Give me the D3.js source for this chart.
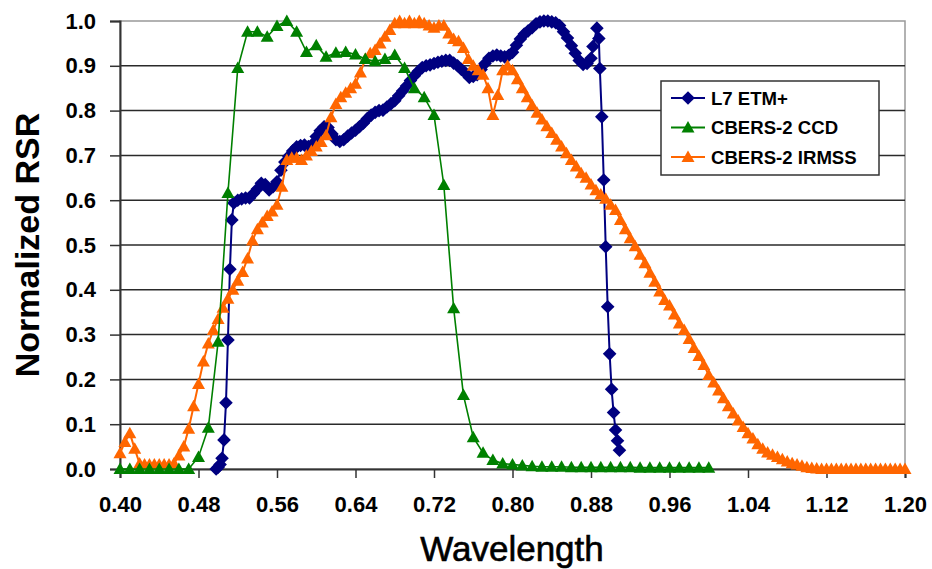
<!DOCTYPE html>
<html>
<head>
<meta charset="utf-8">
<script src="https://cdn.jsdelivr.net/npm/d3@7"></script>
<style>
  body { margin: 0; background: #fff; }
  text { font-family: "Liberation Sans", Arial, sans-serif; }
</style>
</head>
<body>
<div id="chart"></div>
<script>
// tick labels
var xTicks = [0.40, 0.48, 0.56, 0.64, 0.72, 0.80, 0.88, 0.96, 1.04, 1.12, 1.20];
var yTicks = [0.0, 0.1, 0.2, 0.3, 0.4, 0.5, 0.6, 0.7, 0.8, 0.9, 1.0];
var seriesNames = ["L7 ETM+", "CBERS-2 CCD", "CBERS-2 IRMSS"];

// L7 ETM+ : steep edges read point by point, the band in between every 4 nm
var l7EdgeLeftWave = [0.498, 0.500, 0.502, 0.504, 0.506, 0.508, 0.510, 0.512, 0.514, 0.516];
var l7EdgeLeftValue = [0.0, 0.004, 0.010, 0.024, 0.065, 0.148, 0.288, 0.446, 0.556, 0.594];
var l7MidWave = d3.range(0.520, 0.8805, 0.004);
var l7MidValue = [
  0.600, 0.603, 0.605, 0.605, 0.615, 0.625, 0.638, 0.635, 0.623, 0.630,
  0.641, 0.667, 0.685, 0.698, 0.710, 0.719, 0.722, 0.723, 0.720, 0.725,
  0.742, 0.755, 0.764, 0.762, 0.748, 0.735, 0.731, 0.735, 0.743, 0.750,
  0.756, 0.764, 0.772, 0.782, 0.790, 0.796, 0.800, 0.801, 0.808, 0.815,
  0.822, 0.833, 0.844, 0.855, 0.867, 0.878, 0.888, 0.896, 0.900, 0.902,
  0.905, 0.908, 0.910, 0.912, 0.912, 0.906, 0.900, 0.892, 0.884, 0.874,
  0.876, 0.880, 0.892, 0.905, 0.917, 0.922, 0.924, 0.922, 0.920, 0.923,
  0.930, 0.946, 0.960, 0.971, 0.978, 0.985, 0.994, 0.998, 1.000, 1.000,
  0.998, 0.996, 0.990, 0.976, 0.962, 0.945, 0.928, 0.912, 0.903, 0.905,
  0.917
];
var l7EdgeRightWave = [0.882, 0.886, 0.888, 0.889, 0.891, 0.893, 0.895, 0.897, 0.899, 0.901, 0.903, 0.905, 0.907, 0.909];
var l7EdgeRightValue = [0.943, 0.984, 0.961, 0.894, 0.786, 0.645, 0.496, 0.362, 0.257, 0.178, 0.126, 0.087, 0.063, 0.042];

// CBERS-2 CCD : every 10 nm from 0.40 to 1.00
var ccdWave = d3.range(0.40, 1.0005, 0.01);
var ccdValue = [
  0.0, 0.0, 0.0, 0.0, 0.0, 0.0, 0.0, 0.0, 0.027, 0.092,
  0.284, 0.616, 0.895, 0.976, 0.976, 0.965, 0.989, 1.000, 0.976, 0.931,
  0.946, 0.920, 0.929, 0.931, 0.925, 0.915, 0.910, 0.915, 0.924, 0.895,
  0.850, 0.830, 0.790, 0.634, 0.359, 0.165, 0.071, 0.036, 0.020, 0.012,
  0.010, 0.008, 0.006, 0.005, 0.005, 0.005, 0.004, 0.004, 0.004, 0.004,
  0.004, 0.004, 0.004, 0.003, 0.003, 0.003, 0.003, 0.003, 0.003, 0.003,
  0.003
];

// CBERS-2 IRMSS : every 5 nm from 0.40 to 1.20
var irmssWave = d3.range(0.40, 1.2005, 0.005);
var irmssValue = [
  0.035, 0.060, 0.080, 0.045, 0.012, 0.010, 0.010, 0.010, 0.010, 0.010,
  0.010, 0.012, 0.030, 0.050, 0.090, 0.140, 0.190, 0.240, 0.280, 0.310,
  0.335, 0.360, 0.380, 0.400, 0.420, 0.440, 0.470, 0.510, 0.535, 0.550,
  0.565, 0.575, 0.590, 0.630, 0.690, 0.695, 0.695, 0.690, 0.700, 0.710,
  0.720, 0.730, 0.745, 0.785, 0.815, 0.830, 0.840, 0.850, 0.860, 0.885,
  0.915, 0.928, 0.935, 0.950, 0.965, 0.980, 0.995, 1.000, 0.995, 1.000,
  0.995, 1.000, 0.995, 0.990, 0.985, 0.990, 0.990, 0.972, 0.960, 0.955,
  0.940, 0.915, 0.900, 0.890, 0.880, 0.850, 0.790, 0.835, 0.890, 0.900,
  0.890, 0.870, 0.850, 0.830, 0.812, 0.795, 0.780, 0.765, 0.750, 0.735,
  0.720, 0.705, 0.690, 0.675, 0.660, 0.650, 0.635, 0.622, 0.613, 0.603,
  0.590, 0.578, 0.556, 0.535, 0.515, 0.497, 0.478, 0.459, 0.438, 0.418,
  0.396, 0.377, 0.365, 0.345, 0.325, 0.310, 0.290, 0.270, 0.252, 0.232,
  0.210, 0.193, 0.175, 0.158, 0.140, 0.124, 0.108, 0.094, 0.080, 0.068,
  0.055, 0.045, 0.037, 0.032, 0.027, 0.022, 0.017, 0.013, 0.010, 0.007,
  0.004, 0.002, 0.001, 0.0, 0.0, 0.0, 0.0, 0.0, 0.0, 0.0,
  0.0, 0.0, 0.0, 0.0, 0.0, 0.0, 0.0, 0.0, 0.0, 0.0,
  0.0
];

function zipPoints(waves, values) {
  return waves.map(function(w, i) { return {w: w, v: values[i]}; });
}

var l7Data = zipPoints(l7EdgeLeftWave, l7EdgeLeftValue)
  .concat(zipPoints(l7MidWave, l7MidValue))
  .concat(zipPoints(l7EdgeRightWave, l7EdgeRightValue));
var ccdData = zipPoints(ccdWave, ccdValue);
var irmssData = zipPoints(irmssWave, irmssValue);

var colors = {"L7 ETM+": "#000080", "CBERS-2 CCD": "#008000", "CBERS-2 IRMSS": "#ff6600"};
// excel style markers
var diamond = "M0,-6.8L6.8,0L0,6.8L-6.8,0Z";
var triangle = "M0,-6.5L6.5,5L-6.5,5Z";

var margin = {top: 21, right: 27, bottom: 100, left: 120},
    width = 932 - margin.left - margin.right,
    height = 569 - margin.top - margin.bottom;

var svg = d3.select("#chart")
  .append("svg")
    .attr("width", 932)
    .attr("height", 569)
  .append("g")
    .attr("transform", "translate(" + margin.left + "," + margin.top + ")");

var x = d3.scaleLinear().domain([0.40, 1.20]).range([0, width]);
var y = d3.scaleLinear().domain([0, 1]).range([height, 0]);

// plot area border (grey) and horizontal gridlines
svg.append("rect")
  .attr("width", width)
  .attr("height", height)
  .attr("fill", "none")
  .attr("stroke", "#999")
  .attr("stroke-width", 1.5);

svg.selectAll("gridline")
  .data(yTicks.filter(function(d) { return d > 0 && d < 1; }))
  .enter()
  .append("line")
    .attr("x1", 0)
    .attr("x2", width)
    .attr("y1", function(d) { return y(d); })
    .attr("y2", function(d) { return y(d); })
    .attr("stroke", "#2a2a2a")
    .attr("stroke-width", 1.5);

// axes
var xAxis = svg.append("g")
  .attr("transform", "translate(0," + height + ")")
  .call(d3.axisBottom(x).tickValues(xTicks).tickFormat(d3.format(".2f")).tickSize(9).tickPadding(17));
var yAxis = svg.append("g")
  .call(d3.axisLeft(y).tickValues(yTicks).tickFormat(d3.format(".1f")).tickSize(10).tickPadding(14));

[xAxis, yAxis].forEach(function(ax) {
  ax.select(".domain").attr("stroke", "#333").attr("stroke-width", 2);
  ax.selectAll(".tick line").attr("stroke", "#333").attr("stroke-width", 1.5);
  ax.selectAll(".tick text")
    .attr("fill", "#000")
    .style("font-family", "'Liberation Sans', Arial, sans-serif")
    .style("font-size", "22px")
    .style("font-weight", "bold");
});
xAxis.selectAll(".tick text").attr("dy", "0.75em");

// axis titles
svg.append("text")
  .attr("x", 392)
  .attr("y", 540)
  .attr("text-anchor", "middle")
  .style("font-size", "35px")
  .style("stroke", "#000")
  .style("stroke-width", 0.6)
  .text("Wavelength");

svg.append("text")
  .attr("transform", "translate(-81," + (height / 2) + ")rotate(-90)")
  .attr("text-anchor", "middle")
  .style("font-size", "34px")
  .style("font-weight", "bold")
  .text("Normalized RSR");

// series: L7 first, then IRMSS, CCD on top (as in the picture)
var line = d3.line()
  .x(function(d) { return x(d.w); })
  .y(function(d) { return y(d.v); });

function drawSeries(data, name, marker, lineWidth) {
  var g = svg.append("g");
  g.append("path")
    .datum(data)
    .attr("d", line)
    .attr("fill", "none")
    .attr("stroke", colors[name])
    .attr("stroke-width", lineWidth);
  g.selectAll("mymarkers")
    .data(data)
    .enter()
    .append("path")
      .attr("d", marker)
      .attr("transform", function(d) { return "translate(" + x(d.w) + "," + y(d.v) + ")"; })
      .attr("fill", colors[name]);
}

drawSeries(l7Data, "L7 ETM+", diamond, 2);
drawSeries(irmssData, "CBERS-2 IRMSS", triangle, 2);
drawSeries(ccdData, "CBERS-2 CCD", triangle, 1.6);

// legend box
var legend = svg.append("g")
  .attr("transform", "translate(" + (661 - margin.left) + "," + (81 - margin.top) + ")");
legend.append("rect")
  .attr("width", 218)
  .attr("height", 94)
  .attr("fill", "#fff")
  .attr("stroke", "#333")
  .attr("stroke-width", 1.5);

var legendMarkers = {"L7 ETM+": diamond, "CBERS-2 CCD": triangle, "CBERS-2 IRMSS": triangle};
seriesNames.forEach(function(name, i) {
  var cy = 17 + i * 29.5;
  legend.append("line")
    .attr("x1", 10).attr("x2", 44)
    .attr("y1", cy).attr("y2", cy)
    .attr("stroke", colors[name])
    .attr("stroke-width", 2);
  legend.append("path")
    .attr("d", legendMarkers[name])
    .attr("transform", "translate(27," + cy + ")")
    .attr("fill", colors[name]);
  legend.append("text")
    .attr("x", 50)
    .attr("y", cy)
    .attr("dy", "0.36em")
    .style("font-size", "18.6px")
    .style("font-weight", "bold")
    .text(name);
});
</script>
</body>
</html>
